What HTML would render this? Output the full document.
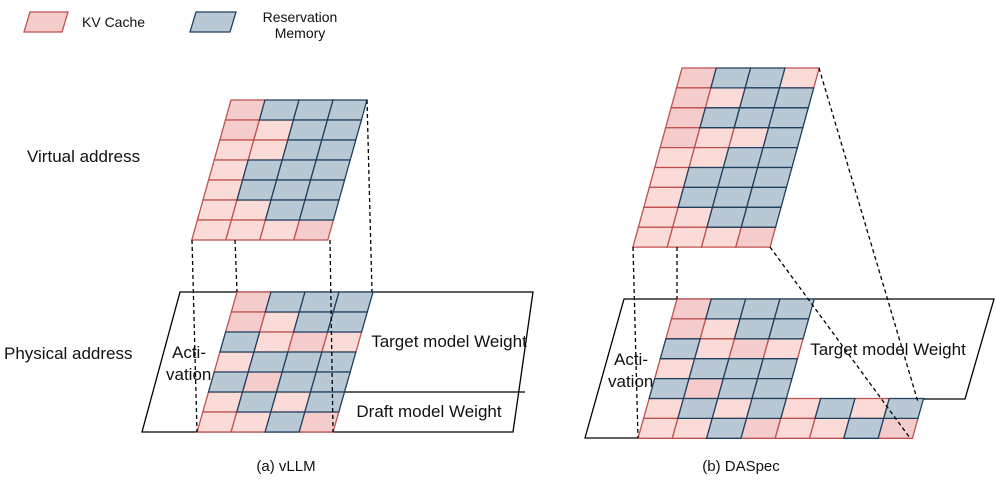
<!DOCTYPE html><html><head><style>body{margin:0;background:#fff}svg{display:block}text{font-family:"Liberation Sans",sans-serif;fill:#111}</style></head><body>
<svg id="s" width="996" height="495" viewBox="0 0 996 495" xmlns="http://www.w3.org/2000/svg">
<polygon points="30,12 68,12 62,32 24,32" fill="#f5cccc" stroke="#c0504d" stroke-width="1.3"/>
<text x="82" y="27" font-size="14">KV Cache</text>
<polygon points="196,12 236,12 230,32 190,32" fill="#b8c8d4" stroke="#1f3f5f" stroke-width="1.3"/>
<text x="300" y="22" font-size="14" text-anchor="middle">Reservation</text>
<text x="300" y="38" font-size="14" text-anchor="middle">Memory</text>
<text x="27" y="162" font-size="17">Virtual address</text>
<text x="4" y="359" font-size="17">Physical address</text>
<polygon points="180,292 533,292 513,432 142,432" fill="#fff" stroke="#000" stroke-width="1.3"/>
<line x1="340" y1="392" x2="525" y2="392" stroke="#000" stroke-width="1.3"/>
<text x="449" y="347" font-size="17" text-anchor="middle">Target model Weight</text>
<text x="429" y="417" font-size="17" text-anchor="middle">Draft model Weight</text>
<text x="172" y="358" font-size="17">Acti-</text>
<text x="166" y="380" font-size="17">vation</text>
<polygon points="624,299 994,299 965,399 785,399 785,438 585,438" fill="#fff" stroke="#000" stroke-width="1.3"/>
<text x="888" y="355" font-size="17" text-anchor="middle">Target model Weight</text>
<text x="614" y="365" font-size="17">Acti-</text>
<text x="608" y="387" font-size="17">vation</text>
<text x="286" y="471" font-size="15" text-anchor="middle">(a) vLLM</text>
<text x="741" y="471" font-size="15" text-anchor="middle">(b) DASpec</text>
<g id="g"></g>
<g stroke="#000" stroke-width="1.3" stroke-dasharray="4,3" fill="none">
<line x1="192" y1="240" x2="197" y2="432"/><line x1="235" y1="240" x2="237" y2="292"/>
<line x1="330" y1="240" x2="333" y2="432"/><line x1="367" y1="100" x2="372" y2="292"/>
<line x1="633" y1="247" x2="638" y2="438"/><line x1="677" y1="247" x2="677" y2="299"/>
<line x1="770" y1="247" x2="910" y2="438"/><line x1="819" y1="68" x2="918" y2="402"/>
</g>
</svg>
<script>
var C={P:["#f5cccc","#c0504d"],p:["#fadbd8","#c0504d"],B:["#b8c8d4","#1f3f5f"]};
var g=document.getElementById('g'),out='';
function grid(x0,y0,w,h,k,rows){
 var cells=[];
 rows.forEach(function(r,ri){r.split('').forEach(function(ch,ci){
  var ya=y0+ri*h,yb=ya+h,xa=x0+ci*w-k*ri*h,xb=xa-k*h;
  cells.push([ch,xa+','+ya+' '+(xa+w)+','+ya+' '+(xb+w)+','+yb+' '+xb+','+yb]);});});
 cells.sort(function(a,b){return (a[0]=='B')-(b[0]=='B');});
 cells.forEach(function(c){out+='<polygon points="'+c[1]+'" fill="'+C[c[0]][0]+'" stroke="'+C[c[0]][1]+'" stroke-width="1.3"/>';});
}
grid(231,100,34,20,0.28,["PBBB","PpBB","ppBB","pBBB","pBBB","ppBB","pppP"]);
grid(237,292,34,20,0.285,["PBBB","PpBB","BpPp","pBBB","BPBB","pBpB","ppBP"]);
grid(682,68,34.3,19.9,0.274,["PBBp","PpBB","PBBB","PppB","ppBB","pBBB","pBBB","ppBB","pppP"]);
grid(677,299,34.3,19.9,0.28,["PBBB","PpBB","BpPp","pBBB","BPBB","pBpBpBpB","ppBPppBP"]);
g.innerHTML=out;
</script>
</body></html>
